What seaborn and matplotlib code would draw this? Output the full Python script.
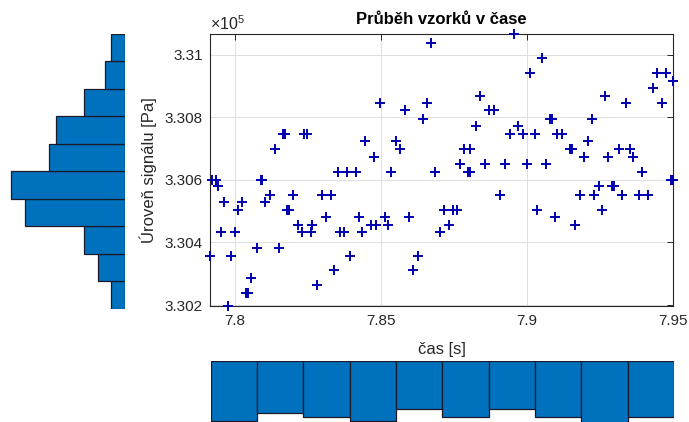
import numpy as np
import pandas as pd
import matplotlib
matplotlib.use("Agg")
import matplotlib.pyplot as plt
from matplotlib.ticker import FuncFormatter
import seaborn as sns

# ---- data (time [s], pressure [Pa]) ----
time_s = [
    7.8670, 7.8497, 7.8581, 7.8659, 7.8642, 7.8165, 7.8170, 7.8236, 7.8246, 7.8135,
    7.8446, 7.8551, 7.8566, 7.8475, 7.8351, 7.8382, 7.8414, 7.8535, 7.8686, 7.7922,
    7.7934, 7.7940, 7.8087, 7.8092, 7.8118, 7.8198, 7.8297, 7.8328, 7.7963, 7.8023,
    7.8101, 7.8009, 7.8178, 7.8184, 7.8311, 7.8423, 7.8513, 7.8597, 7.8215, 7.8265,
    7.8229, 7.8261, 7.8465, 7.8484, 7.8524, 7.8360, 7.8372, 7.8435, 7.7952, 7.8000,
    7.8701, 7.8074, 7.8151, 7.7914, 7.7986, 7.8395, 7.8627, 7.8340, 7.8609, 7.8055,
    7.8280, 7.8037, 7.8043, 7.7975,
    7.8957, 7.9051, 7.9011, 7.9444, 7.9475, 7.9499, 7.9432, 7.8840, 7.9267, 7.9340,
    7.9463, 7.8868, 7.8888, 7.9080, 7.9085, 7.9222, 7.8825, 7.8969, 7.8941, 7.8986,
    7.9026, 7.9103, 7.9120, 7.9208, 7.8783, 7.8805, 7.9146, 7.9150, 7.9154, 7.9315,
    7.9352, 7.9195, 7.9277, 7.9364, 7.8771, 7.8798, 7.8803, 7.8855, 7.8926, 7.9000,
    7.9066, 7.9395, 7.9493, 7.9500, 7.8906, 7.9183, 7.9229, 7.9246, 7.9291, 7.9297,
    7.9326, 7.9383, 7.9414, 7.8716, 7.8746, 7.8760, 7.8731, 7.9034, 7.9095, 7.9257,
    7.9166,
]
pressure_pa = [
    331037, 330846, 330822, 330846, 330796, 330748, 330748, 330748, 330748, 330700,
    330724, 330724, 330700, 330674, 330626, 330626, 330626, 330626, 330626, 330600,
    330600, 330579, 330600, 330600, 330552, 330552, 330552, 330552, 330528, 330528,
    330528, 330505, 330505, 330505, 330480, 330480, 330480, 330480, 330457, 330457,
    330433, 330433, 330457, 330457, 330457, 330433, 330433, 330433, 330433, 330433,
    330433, 330383, 330383, 330358, 330358, 330358, 330358, 330312, 330312, 330288,
    330263, 330238, 330238, 330197,
    331066, 330990, 330941, 330941, 330941, 330917, 330893, 330868, 330868, 330846,
    330846, 330822, 330822, 330796, 330796, 330796, 330772, 330772, 330748, 330748,
    330748, 330748, 330748, 330724, 330700, 330700, 330700, 330700, 330700, 330700,
    330700, 330674, 330674, 330674, 330650, 330626, 330626, 330650, 330650, 330650,
    330650, 330626, 330600, 330600, 330552, 330552, 330552, 330579, 330579, 330579,
    330552, 330552, 330552, 330505, 330505, 330505, 330457, 330505, 330480, 330505,
    330457,
]

# marginal histogram bin counts (10 bins each)
time_bin_counts = [16, 14, 15, 16, 13, 15, 13, 15, 18, 15]          # left -> right
pressure_bin_counts = [4, 8, 12, 29, 33, 22, 20, 12, 6, 4]          # low -> high

x_ticks = [7.8, 7.85, 7.9, 7.95]
x_tick_labels = ["7.8", "7.85", "7.9", "7.95"]
y_ticks = [330200, 330400, 330600, 330800, 331000]

title = "Průběh vzorků v čase"
x_label = "čas [s]"
y_label = "Úroveň signálu [Pa]"

# ---- styling ----
sns.set_style("white")
plt.rcParams["font.family"] = ["Liberation Sans", "DejaVu Sans"]
plt.rcParams["mathtext.fontset"] = "custom"
plt.rcParams["mathtext.rm"] = "Liberation Sans"
TXT = "#262626"
HIST_FACE = "#0072BD"
HIST_EDGE = "#1a1a2a"
MARK = "#0000B0"

df = pd.DataFrame({"t": time_s, "p": pressure_pa})
xmin, xmax = min(time_s), max(time_s)
ymin, ymax = min(pressure_pa), max(pressure_pa)

W, H = 689, 422
fig = plt.figure(figsize=(W / 100, H / 100), dpi=100)

def rect(l, r, t, b):
    return [l / W, (H - b) / H, (r - l) / W, (b - t) / H]

# main scatter axes
ax = fig.add_axes(rect(210, 673, 34, 306))
sns.scatterplot(data=df, x="t", y="p", marker="+", s=55, color=MARK,
                linewidth=1.4, ax=ax, clip_on=False, zorder=3)
ax.set_xlim(xmin, xmax)
ax.set_ylim(ymin, ymax)
ax.set_xticks(x_ticks)
ax.set_xticklabels(x_tick_labels)
ax.set_yticks(y_ticks)
ax.yaxis.set_major_formatter(FuncFormatter(lambda v, p: f"{v / 1e5:g}"))
ax.grid(True, color="#dedede", linewidth=0.7)
ax.set_axisbelow(True)
ax.tick_params(direction="in", length=4, width=0.7, colors=TXT, labelsize=11,
               top=True, right=True, pad=5)
ax.tick_params(axis="x", pad=6)
for sp in ax.spines.values():
    sp.set_color(TXT)
    sp.set_linewidth(0.8)
ax.set_title(title, fontsize=12, fontweight="bold", color="black", pad=7)
ax.set_xlabel(x_label, fontsize=12, color=TXT, labelpad=10)
ax.set_ylabel(y_label, fontsize=12, color=TXT, labelpad=6)
ax.text(0.0, 1.005, r"$\times10^{5}$", transform=ax.transAxes, ha="left",
        va="bottom", fontsize=11.5, color=TXT)

# left marginal histogram (pressure)
ny = len(pressure_bin_counts)
y_edges = np.linspace(ymin, ymax, ny + 1)
dfy = pd.DataFrame({"p": (y_edges[:-1] + y_edges[1:]) / 2,
                    "n": np.asarray(pressure_bin_counts, dtype=float)})
axL = fig.add_axes(rect(0, 125.3, 34, 308.7))
sns.histplot(data=dfy, y="p", weights="n", bins=ny, binrange=(ymin, ymax),
             ax=axL, color=HIST_FACE, edgecolor=HIST_EDGE, linewidth=0.9,
             alpha=1.0)
axL.set_ylim(ymin, ymax)
axL.set_xlim(36.3, 0)
axL.axis("off")

# bottom marginal histogram (time)
nx = len(time_bin_counts)
x_edges = np.linspace(xmin, xmax, nx + 1)
dfx = pd.DataFrame({"t": (x_edges[:-1] + x_edges[1:]) / 2,
                    "n": np.asarray(time_bin_counts, dtype=float)})
axB = fig.add_axes(rect(210.7, 674, 360.7, 422))
sns.histplot(data=dfx, x="t", weights="n", bins=nx, binrange=(xmin, xmax),
             ax=axB, color=HIST_FACE, edgecolor=HIST_EDGE, linewidth=0.9,
             alpha=1.0)
axB.set_xlim(xmin, xmax)
axB.set_ylim(16.35, 0)
axB.axis("off")

fig.savefig("out.png", dpi=100)
